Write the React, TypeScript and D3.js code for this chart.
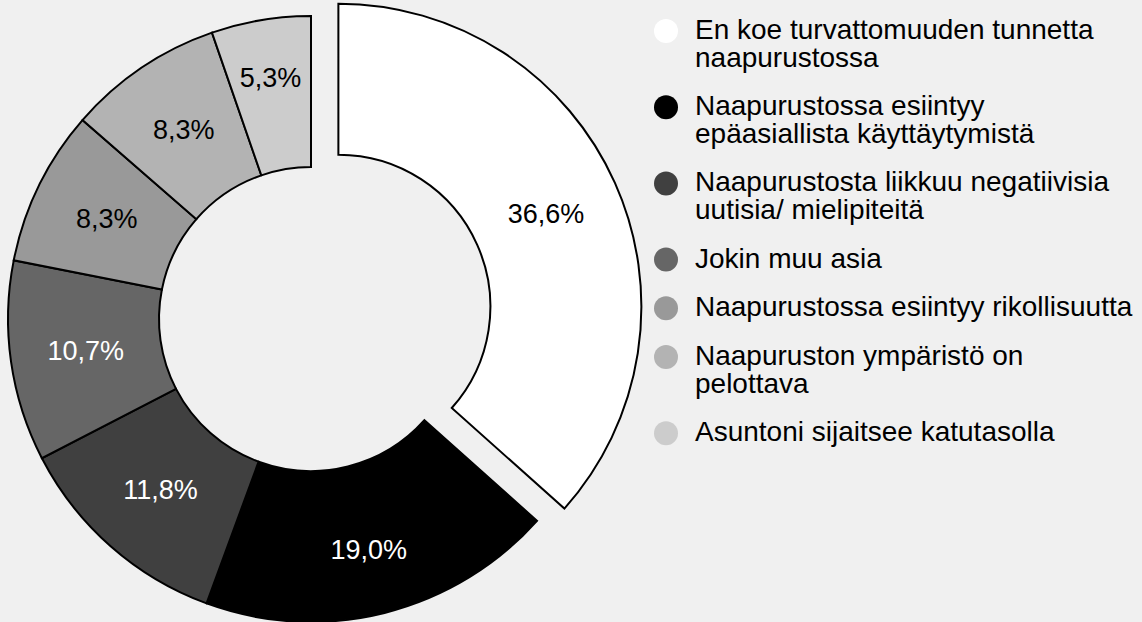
import React from "react";
import * as d3 from "d3";

const categories: string[][] = [
  ["En koe turvattomuuden tunnetta", "naapurustossa"],
  ["Naapurustossa esiintyy", "epäasiallista käyttäytymistä"],
  ["Naapurustosta liikkuu negatiivisia", "uutisia/ mielipiteitä"],
  ["Jokin muu asia"],
  ["Naapurustossa esiintyy rikollisuutta"],
  ["Naapuruston ympäristö on", "pelottava"],
  ["Asuntoni sijaitsee katutasolla"],
];
const values: number[] = [36.6, 19.0, 11.8, 10.7, 8.3, 8.3, 5.3];
const labels: string[] = ["36,6%", "19,0%", "11,8%", "10,7%", "8,3%", "8,3%", "5,3%"];

const colors: string[] = ["#ffffff", "#000000", "#404040", "#666666", "#999999", "#b3b3b3", "#cccccc"];
const labelColors: string[] = ["#000", "#fff", "#fff", "#fff", "#000", "#000", "#000"];
const exploded: number[] = [0];

const W = 1142;
const H = 622;
const CX = 311;
const CY = 319;
const R = 303;
const r = 152;
const OFFSET = 30;
const FONT = "'Liberation Sans', Arial, sans-serif";
// radial distance of each slice label from the centre
const LABEL_R: number[] = [227.5, 238, 227.5, 227.5, 227.5, 227.5, 244];

export default function App() {
  if (typeof document !== "undefined") document.body.style.margin = "0";
  const pie = d3.pie<number>().sort(null).value((d) => d);
  const arcs = pie(values);
  const arcGen = d3.arc<d3.PieArcDatum<number>>().innerRadius(r).outerRadius(R);

  const legendX = 666;
  const textX = 695;
  const lineH = 27.5;
  const gap = 21.2;
  let base = 39;
  const legendItems = categories.map((lines, i) => {
    const y0 = base;
    base += lines.length * lineH + gap;
    return { lines, y0, i };
  });

  return (
    <svg width={W} height={H} style={{ display: "block", background: "#f0f0f0" }}>
      <rect x={0} y={0} width={W} height={H} fill="#f0f0f0" />
      <g transform={`translate(${CX},${CY})`}>
        {arcs.map((a, i) => {
          const mid = (a.startAngle + a.endAngle) / 2;
          const off = exploded.includes(i) ? OFFSET : 0;
          const dx = Math.sin(mid) * off;
          const dy = -Math.cos(mid) * off;
          const lx = Math.sin(mid) * LABEL_R[i];
          const ly = -Math.cos(mid) * LABEL_R[i];
          return (
            <g key={i} transform={`translate(${dx},${dy})`}>
              <path d={arcGen(a) || ""} fill={colors[i]} stroke="#000" strokeWidth={2} strokeLinejoin="miter" />
              <text
                x={lx}
                y={ly}
                textAnchor="middle"
                dominantBaseline="central"
                fontFamily={FONT}
                fontSize={27}
                fill={labelColors[i]}
              >
                {labels[i]}
              </text>
            </g>
          );
        })}
      </g>
      <g>
        {legendItems.map(({ lines, y0, i }) => (
          <g key={i}>
            <circle cx={legendX} cy={y0 - 8} r={12} fill={colors[i]} />
            <text x={textX} y={y0} fontFamily={FONT} fontSize={28} fill="#000">
              {lines.map((l, k) => (
                <tspan key={k} x={textX} y={y0 + k * lineH}>
                  {l}
                </tspan>
              ))}
            </text>
          </g>
        ))}
      </g>
    </svg>
  );
}
